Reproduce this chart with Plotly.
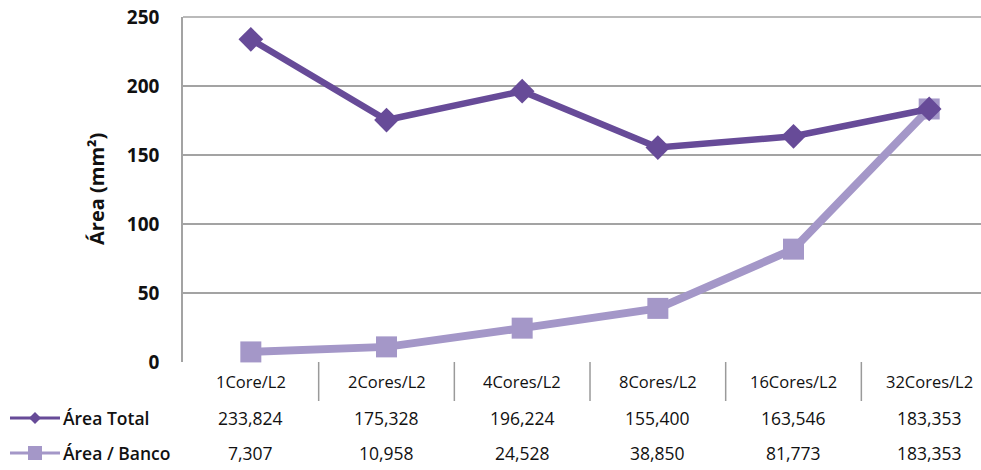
import plotly.graph_objects as go

categories = ["1Core/L2", "2Cores/L2", "4Cores/L2", "8Cores/L2", "16Cores/L2", "32Cores/L2"]
area_total = [233.824, 175.328, 196.224, 155.400, 163.546, 183.353]
area_banco = [7.307, 10.958, 24.528, 38.850, 81.773, 183.353]
total_labels = ["233,824", "175,328", "196,224", "155,400", "163,546", "183,353"]
banco_labels = ["7,307", "10,958", "24,528", "38,850", "81,773", "183,353"]
series_names = ["Área Total", "Área / Banco"]
y_ticks = [0, 50, 100, 150, 200, 250]

W, H = 981, 470
L, T = 183, 17
BOTTOM = 362
B = H - BOTTOM
PW, PH = W - L, BOTTOM - T
CAT_W = 135.67

DARK = "#674b98"
LIGHT = "#a497c8"
GRID = "#a3a3a3"
FONT = "Open Sans"
TXT = "#111111"

def px(x):
    return (x - L) / PW

def py(y):
    return (BOTTOM - y) / PH

xs = list(range(len(categories)))

fig = go.Figure()
fig.add_trace(go.Scatter(x=xs, y=area_banco, mode="lines+markers", name=series_names[1],
                         line=dict(color=LIGHT, width=8),
                         marker=dict(symbol="square", size=21, color=LIGHT),
                         cliponaxis=False))
fig.add_trace(go.Scatter(x=xs, y=area_total, mode="lines+markers", name=series_names[0],
                         line=dict(color=DARK, width=6.5),
                         marker=dict(symbol="diamond", size=19, color=DARK),
                         cliponaxis=False))

shapes = []
annotations = []
# top border gridline (250)
shapes.append(dict(type="line", xref="paper", yref="paper", x0=0, x1=1, y0=1, y1=1,
                   line=dict(color=GRID, width=1.5), layer="below"))
for i in range(len(categories) - 1):
    shapes.append(dict(type="line", xref="x", yref="paper", x0=i + 0.5, x1=i + 0.5,
                       y0=0, y1=py(401), line=dict(color="#9a9a9a", width=1.5)))
for i, c in enumerate(categories):
    annotations.append(dict(x=i, y=py(381), xref="x", yref="paper", text=c, showarrow=False,
                            xanchor="center", yanchor="middle",
                            font=dict(family=FONT, size=16.5, color=TXT)))
    annotations.append(dict(x=i, y=py(418), xref="x", yref="paper", text=total_labels[i], showarrow=False,
                            xanchor="center", yanchor="middle",
                            font=dict(family=FONT, size=17.5, color=TXT)))
    annotations.append(dict(x=i, y=py(453), xref="x", yref="paper", text=banco_labels[i], showarrow=False,
                            xanchor="center", yanchor="middle",
                            font=dict(family=FONT, size=17.5, color=TXT)))
for yy, col, sym, name in [(418, DARK, "diamond", series_names[0]), (453, LIGHT, "square", series_names[1])]:
    shapes.append(dict(type="line", xref="paper", yref="paper", x0=px(10), x1=px(60),
                       y0=py(yy), y1=py(yy), line=dict(color=col, width=3)))
    if sym == "diamond":
        path = "M {} {} L {} {} L {} {} L {} {} Z".format(
            px(35), py(yy - 6), px(41), py(yy), px(35), py(yy + 6), px(29), py(yy))
    else:
        path = "M {} {} L {} {} L {} {} L {} {} Z".format(
            px(28), py(yy - 7), px(42), py(yy - 7), px(42), py(yy + 7), px(28), py(yy + 7))
    shapes.append(dict(type="path", xref="paper", yref="paper", path=path,
                       fillcolor=col, line=dict(color=col, width=0)))
    annotations.append(dict(x=px(61), y=py(yy), xref="paper", yref="paper", text=name,
                            showarrow=False, xanchor="left", yanchor="middle",
                            font=dict(family=FONT, size=17.5, color=TXT, weight=600)))
annotations.append(dict(x=px(96), y=py(189), xref="paper", yref="paper", text="Área (mm²)",
                        showarrow=False, textangle=-90, xanchor="center", yanchor="middle",
                        font=dict(family=FONT, size=20, color=TXT, weight="bold")))

fig.update_layout(
    width=W, height=H,
    margin=dict(l=L, r=0, t=T, b=B, autoexpand=False),
    paper_bgcolor="white", plot_bgcolor="white",
    showlegend=False,
    shapes=shapes, annotations=annotations,
    xaxis=dict(range=[-0.5, -0.5 + PW / CAT_W], showticklabels=False, showgrid=False,
               zeroline=False, showline=False, fixedrange=True, automargin=False),
    yaxis=dict(range=[0, 250], tickvals=y_ticks, showgrid=True, gridcolor=GRID, gridwidth=1.5,
               zeroline=False, showline=True, linecolor=GRID, linewidth=1.5,
               ticks="", ticklabelstandoff=18, ticklabeloverflow="allow", automargin=False,
               tickfont=dict(family=FONT, size=19, color=TXT, weight="bold")),
)

fig.write_html("out.html", config={"displayModeBar": False},
               post_script="document.body.style.margin='0';document.body.style.overflow='hidden';")
